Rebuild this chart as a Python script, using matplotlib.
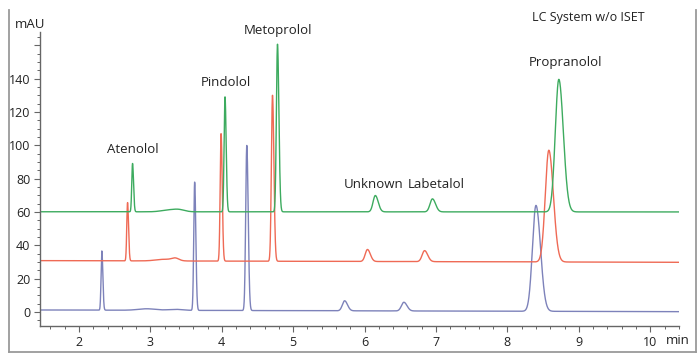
import numpy as np
import matplotlib
matplotlib.use("Agg")
import matplotlib.pyplot as plt
from matplotlib.lines import Line2D
from matplotlib.ticker import MultipleLocator, FuncFormatter

plt.rcParams['font.family'] = ['Open Sans', 'DejaVu Sans']

# ---- data ----
compounds = ["Atenolol", "Pindolol", "Metoprolol", "Unknown", "Labetalol", "Propranolol"]
peak_sigma = [0.012, 0.014, 0.017, 0.035, 0.038, 0.055]   # peak width (min)

blue_baseline = 1.2
blue_times = [2.32, 3.62, 4.35, 5.72, 6.55, 8.40]
blue_heights = [35.5, 77.0, 99.0, 6.0, 5.2, 63.5]

red_baseline = 30.8
red_times = [2.68, 3.99, 4.71, 6.04, 6.84, 8.58]
red_heights = [35.0, 76.5, 99.5, 7.2, 6.6, 67.0]

green_baseline = 60.1
green_times = [2.75, 4.045, 4.78, 6.15, 6.95, 8.72]
green_heights = [29.0, 69.0, 100.5, 9.8, 7.8, 79.5]

# small baseline bumps (time, height, width)
blue_bumps = [(2.95, 0.9, 0.12), (3.35, 0.6, 0.1)]
red_bumps = [(3.20, 1.0, 0.12), (3.35, 1.4, 0.05)]
green_bumps = [(3.25, 1.0, 0.10), (3.40, 1.2, 0.08)]
drift = {"blue": -1.0, "red": -1.0, "green": -0.1}

colors = {"blue": "#7d82ba", "red": "#ef6a55", "green": "#3dab5f"}

x_ticks = [2, 3, 4, 5, 6, 7, 8, 9, 10]
y_ticks = [0, 20, 40, 60, 80, 100, 120, 140, 160]

t = np.linspace(1.45, 10.4, 6000)


def trace(base, times, heights, bumps, dr):
    y = np.full_like(t, base) + dr * (t - t[0]) / (t[-1] - t[0])
    for tr, h, s in zip(times, heights, peak_sigma):
        sl, sr = s * 0.9, s * 1.15
        sig = np.where(t < tr, sl, sr)
        y += h * np.exp(-0.5 * ((t - tr) / sig) ** 2)
    for tr, h, s in bumps:
        y += h * np.exp(-0.5 * ((t - tr) / s) ** 2)
    return y


fig = plt.figure(figsize=(7.0, 3.61), dpi=100)
ax = fig.add_axes([40 / 700, 35 / 361, 639 / 700, 294 / 361])

yb = trace(blue_baseline, blue_times, blue_heights, blue_bumps, drift["blue"])
yr = trace(red_baseline, red_times, red_heights, red_bumps, drift["red"])
yg = trace(green_baseline, green_times, green_heights, green_bumps, drift["green"])
ax.plot(t, yb, color=colors["blue"], lw=1.0)
ax.plot(t, yr, color=colors["red"], lw=1.0)
ax.plot(t, yg, color=colors["green"], lw=1.0)

ax.set_xlim(1.454, 10.403)
ax.set_ylim(-8.4, 167.9)
for s in ["top", "right"]:
    ax.spines[s].set_visible(False)
for s in ["left", "bottom"]:
    ax.spines[s].set_color("#666666")
    ax.spines[s].set_linewidth(1.0)

ax.set_xticks(x_ticks)
ax.xaxis.set_minor_locator(MultipleLocator(0.2))
ax.set_yticks(y_ticks)
ax.yaxis.set_minor_locator(MultipleLocator(5))
ax.yaxis.set_major_formatter(FuncFormatter(lambda v, p: "" if v > 150 else f"{int(v)}"))
ax.tick_params(axis="both", which="major", length=4, width=0.8, color="#666666",
               labelsize=9, labelcolor="#222222", pad=3)
ax.tick_params(axis="both", which="minor", length=2.5, width=0.7, color="#666666")

# peak labels, placed above the green-trace peaks
green_peak_vals = [green_baseline + h for h in green_heights]
label_dx = [0.006, 0.015, 0.007, -0.02, 0.06, 0.087]
label_dy = [8.6, 8.8, 7.9, 6.8, 8.8, 10.3]
for name, tt, yy, dx, dy in zip(compounds, green_times, green_peak_vals, label_dx, label_dy):
    ax.text(tt + dx, yy + dy, name, ha="center", va="center", fontsize=9.5,
            color="#222222", clip_on=False)

fig.text(15 / 700, 1 - 24 / 361, "mAU", ha="left", va="center", fontsize=9.5, color="#222222")
fig.text(678 / 700, 1 - 341 / 361, "min", ha="center", va="center", fontsize=9.5, color="#222222")
fig.text(588 / 700, 1 - 17 / 361, "LC System w/o ISET", ha="center", va="center",
         fontsize=9, color="#222222")

# outer frame (left, bottom, right)
fc = "#9a9a9a"
fig.add_artist(Line2D([9 / 700, 9 / 700], [1 - 352 / 361, 1 - 10 / 361], color=fc, lw=1.3,
                      transform=fig.transFigure))
fig.add_artist(Line2D([695.5 / 700, 695.5 / 700], [1 - 352 / 361, 1 - 10 / 361], color=fc, lw=1.3,
                      transform=fig.transFigure))
fig.add_artist(Line2D([9 / 700, 695.5 / 700], [1 - 352 / 361, 1 - 352 / 361], color=fc, lw=1.3,
                      transform=fig.transFigure))

fig.savefig("out.png", dpi=100)
